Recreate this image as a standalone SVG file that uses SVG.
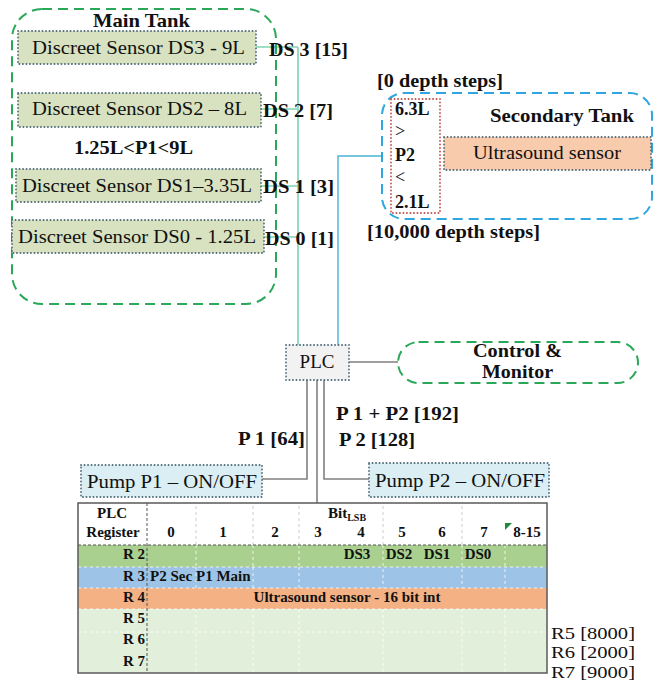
<svg xmlns="http://www.w3.org/2000/svg" width="653" height="683" viewBox="0 0 653 683" font-family="'Liberation Serif', 'DejaVu Serif', serif">
<style>
text{font-family:"Liberation Serif","DejaVu Serif",serif;fill:#111}
.b{font-weight:bold}
.m{text-anchor:middle}
.e{text-anchor:end}
.f19{font-size:19px}
.f18{font-size:18px}
.f16{font-size:16px}
.f15{font-size:15px}
.tank{fill:none;stroke-width:2;stroke-dasharray:10 6}
.gr{stroke:#2aa85a}
.bu{stroke:#2ea6e0}
.box{stroke:#4f6a7a;stroke-width:1.8;stroke-dasharray:0.1 3.4;stroke-linecap:round}
.red{fill:none;stroke:#c0504d;stroke-width:1.8;stroke-dasharray:0.1 3.4;stroke-linecap:round}
.sens{fill:#d8e2c0}
.pump{fill:#daeef3}
.us{fill:#f8cbad}
.plc{fill:#f2f2f2}
.cg{fill:none;stroke:#7dd3b0;stroke-width:1.6}
.cb{fill:none;stroke:#4cb3d6;stroke-width:1.4}
.cy{fill:none;stroke:#808080;stroke-width:1.6}
.cd{fill:none;stroke:#404040;stroke-width:1.2}
.vl{stroke:#ffffff;stroke-width:1;stroke-dasharray:3 3;opacity:0.8}
.vh{stroke:#cccccc;stroke-width:1;stroke-dasharray:3 3}
</style>

<g id="connectors">
  <polyline class="cg" points="256,47 298,47"/>
  <polyline class="cg" points="261,109 298,109"/>
  <polyline class="cg" points="261,186 298,186"/>
  <polyline class="cg" points="264,237 298,237"/>
  <polyline class="cg" points="298,47 298,345"/>
  <polyline class="cb" points="382,156 338,156 338,345"/>
  <polyline class="cd" points="349,362 398,362"/>
  <polyline class="cy" points="307,380 307,479 262,479"/>
  <polyline class="cy" points="324,380 324,479 369,479"/>
  <polyline class="cy" points="317,380 317,503"/>
</g>

<g id="main-tank">
  <rect class="tank gr" x="12" y="9" width="264" height="295" rx="30"/>
  <text class="b f19 m" x="141.5" y="27" textLength="97" lengthAdjust="spacingAndGlyphs">Main Tank</text>
</g>

<g id="ds3">
  <rect class="sens box" x="18" y="31" width="238" height="33"/>
  <text class="f19" x="32" y="54" textLength="213" lengthAdjust="spacingAndGlyphs">Discreet Sensor DS3 - 9L</text>
</g>
<g id="ds2">
  <rect class="sens box" x="18" y="93" width="243" height="34"/>
  <text class="f19" x="32" y="115" textLength="215" lengthAdjust="spacingAndGlyphs">Discreet Sensor DS2 – 8L</text>
</g>
<g id="p1-range">
  <text class="b f18" x="74" y="154" textLength="119" lengthAdjust="spacingAndGlyphs">1.25L&lt;P1&lt;9L</text>
</g>
<g id="ds1">
  <rect class="sens box" x="16" y="169" width="245" height="33"/>
  <text class="f19" x="22" y="192" textLength="230" lengthAdjust="spacingAndGlyphs">Discreet Sensor DS1–3.35L</text>
</g>
<g id="ds0">
  <rect class="sens box" x="12" y="220" width="252" height="33"/>
  <text class="f19" x="18" y="243" textLength="238" lengthAdjust="spacingAndGlyphs">Discreet Sensor DS0 - 1.25L</text>
</g>

<g id="ds-labels">
  <text class="b f18" x="269" y="56" textLength="79" lengthAdjust="spacingAndGlyphs">DS 3 [15]</text>
  <text class="b f18" x="263" y="117" textLength="70" lengthAdjust="spacingAndGlyphs">DS 2 [7]</text>
  <text class="b f18" x="263" y="193" textLength="71" lengthAdjust="spacingAndGlyphs">DS 1 [3]</text>
  <text class="b f18" x="265" y="245" textLength="69" lengthAdjust="spacingAndGlyphs">DS 0 [1]</text>
</g>

<g id="secondary-tank">
  <text class="b f18" x="377" y="87" textLength="126" lengthAdjust="spacingAndGlyphs">[0 depth steps]</text>
  <rect class="tank bu" x="382" y="93" width="270" height="126" rx="22"/>
  <text class="b f18" x="490" y="122" textLength="144" lengthAdjust="spacingAndGlyphs">Secondary Tank</text>
  <text class="b f18" x="367" y="238" textLength="173" lengthAdjust="spacingAndGlyphs">[10,000 depth steps]</text>
</g>

<g id="p2-range">
  <rect class="red" x="391" y="99" width="49" height="114"/>
  <text class="b f18" x="395" y="115">6.3L</text>
  <text class="f18" x="395" y="137">&gt;</text>
  <text class="b f18" x="395" y="161">P2</text>
  <text class="f18" x="395" y="183">&lt;</text>
  <text class="b f18" x="395" y="208">2.1L</text>
</g>

<g id="ultrasound">
  <rect class="us box" x="444" y="137" width="207" height="33"/>
  <text class="f19 m" x="547" y="159" textLength="148" lengthAdjust="spacingAndGlyphs">Ultrasound sensor</text>
</g>

<g id="plc">
  <rect class="plc box" x="286" y="345" width="63" height="35"/>
  <text class="f19 m" x="317" y="368">PLC</text>
</g>

<g id="control-monitor">
  <rect class="tank gr" x="398" y="342" width="240" height="41" rx="20.5"/>
  <text class="b f18 m" x="517.5" y="357" textLength="89" lengthAdjust="spacingAndGlyphs">Control &amp;</text>
  <text class="b f18 m" x="517.5" y="378" textLength="71" lengthAdjust="spacingAndGlyphs">Monitor</text>
</g>

<g id="pump-labels">
  <text class="b f18" x="238" y="445" textLength="67" lengthAdjust="spacingAndGlyphs">P 1 [64]</text>
  <text class="b f18" x="336" y="420" textLength="123" lengthAdjust="spacingAndGlyphs">P 1 + P2 [192]</text>
  <text class="b f18" x="339" y="446" textLength="76" lengthAdjust="spacingAndGlyphs">P 2 [128]</text>
</g>

<g id="pump-p1">
  <rect class="pump box" x="81" y="465" width="181" height="32"/>
  <text class="f19" x="87" y="488" textLength="170" lengthAdjust="spacingAndGlyphs">Pump P1 – ON/OFF</text>
</g>
<g id="pump-p2">
  <rect class="pump box" x="369" y="463" width="180" height="34"/>
  <text class="f19" x="375" y="487" textLength="170" lengthAdjust="spacingAndGlyphs">Pump P2 – ON/OFF</text>
</g>

<g id="register-table">
  <rect x="78" y="503" width="469" height="42" fill="#ffffff"/>
  <rect x="78" y="545" width="469" height="22" fill="#a9d08e"/>
  <rect x="78" y="567" width="469" height="21" fill="#9dc3e6"/>
  <rect x="78" y="588" width="469" height="21" fill="#f4b183"/>
  <rect x="78" y="609" width="469" height="64" fill="#e2efda"/>
  <g>
    <line class="vh" x1="196" y1="506" x2="196" y2="545"/>
    <line class="vh" x1="253" y1="506" x2="253" y2="545"/>
    <line class="vh" x1="299" y1="506" x2="299" y2="545"/>
    <line class="vh" x1="383" y1="506" x2="383" y2="545"/>
    <line class="vh" x1="462" y1="506" x2="462" y2="545"/>
    <line class="vl" x1="196" y1="545" x2="196" y2="567"/>
    <line class="vl" x1="253" y1="545" x2="253" y2="567"/>
    <line class="vl" x1="299" y1="545" x2="299" y2="567"/>
    <line class="vl" x1="383" y1="545" x2="383" y2="588"/>
    <line class="vl" x1="462" y1="545" x2="462" y2="588"/>
    <line class="vl" x1="505" y1="545" x2="505" y2="588"/>
    <line class="vl" x1="196" y1="567" x2="196" y2="588"/>
    <line class="vl" x1="253" y1="567" x2="253" y2="588"/>
    <line class="vl" x1="299" y1="567" x2="299" y2="588"/>
    <line class="vl" x1="78" y1="609" x2="547" y2="609"/>
    <line class="vl" x1="78" y1="632" x2="547" y2="632"/>
    <line class="vl" x1="78" y1="588" x2="547" y2="588"/>
    <line class="vl" x1="78" y1="567" x2="547" y2="567"/>
    <line class="vl" x1="196" y1="609" x2="196" y2="673"/>
    <line class="vl" x1="253" y1="609" x2="253" y2="673"/>
    <line class="vl" x1="299" y1="609" x2="299" y2="673"/>
    <line class="vl" x1="383" y1="609" x2="383" y2="673"/>
    <line class="vl" x1="462" y1="609" x2="462" y2="673"/>
    <line class="vl" x1="505" y1="609" x2="505" y2="673"/>
  </g>
  <line x1="78" y1="545" x2="547" y2="545" stroke="#555" stroke-width="1" stroke-dasharray="3 2"/>
  <line x1="147" y1="503" x2="147" y2="673" stroke="#555" stroke-width="1" stroke-dasharray="3 2"/>
  <rect x="78" y="503" width="469" height="170" fill="none" stroke="#5a5a5a" stroke-width="1.5"/>
  <polygon points="505,523 512,523 505,530" fill="#1f8a3c"/>
  <text class="b f15 m" x="112" y="518">PLC</text>
  <text class="b f15 m" x="113" y="537">Register</text>
  <text class="b f15" x="328" y="518">Bit<tspan font-size="10" dy="3">LSB</tspan></text>
  <text class="b f15 m" x="171" y="537">0</text>
  <text class="b f15 m" x="223" y="537">1</text>
  <text class="b f15 m" x="275" y="537">2</text>
  <text class="b f15 m" x="318" y="537">3</text>
  <text class="b f15 m" x="361" y="537">4</text>
  <text class="b f15 m" x="402" y="537">5</text>
  <text class="b f15 m" x="442" y="537">6</text>
  <text class="b f15 m" x="484" y="537">7</text>
  <text class="b f15 m" x="527" y="537">8-15</text>
  <text class="b f15 e" x="145" y="559">R 2</text>
  <text class="b f15 e" x="145" y="581">R 3</text>
  <text class="b f15 e" x="145" y="602">R 4</text>
  <text class="b f15 e" x="145" y="623">R 5</text>
  <text class="b f15 e" x="145" y="644">R 6</text>
  <text class="b f15 e" x="145" y="666">R 7</text>
  <text class="b f15 m" x="357" y="559">DS3</text>
  <text class="b f15 m" x="399" y="559">DS2</text>
  <text class="b f15 m" x="437" y="559">DS1</text>
  <text class="b f15 m" x="478" y="559">DS0</text>
  <text class="b f15" x="150" y="581">P2 Sec</text>
  <text class="b f15" x="196" y="581">P1 Main</text>
  <text class="b f15 m" x="347" y="602">Ultrasound sensor - 16 bit int</text>
</g>

<g id="register-values">
  <text class="f16" x="551" y="639" textLength="84" lengthAdjust="spacingAndGlyphs">R5 [8000]</text>
  <text class="f16" x="551" y="658" textLength="84" lengthAdjust="spacingAndGlyphs">R6 [2000]</text>
  <text class="f16" x="551" y="678" textLength="84" lengthAdjust="spacingAndGlyphs">R7 [9000]</text>
</g>
</svg>
